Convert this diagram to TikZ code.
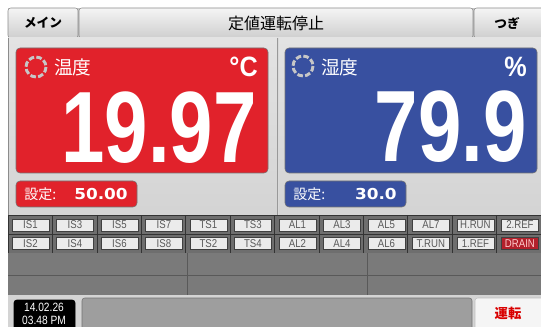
\documentclass[tikz,border=0pt]{standalone}
\usepackage{fontspec}
\setmainfont{Liberation Sans}
\newfontfamily\jpfont{Noto Sans CJK JP}
\newfontfamily\lcdfont{DejaVu Sans}
\usetikzlibrary{positioning}
\definecolor{panelred}{HTML}{E1222B}
\definecolor{panelblue}{HTML}{3850A0}
\definecolor{drainred}{HTML}{B3202B}
\definecolor{metal}{HTML}{D9D9D9}
\definecolor{strip}{HTML}{6E6E6E}
\definecolor{gridgray}{HTML}{7A7A7A}

\begin{document}
\begin{tikzpicture}[x=0.75pt,y=-0.75pt,
    topkey/.style={draw=black!45, rounded corners=2pt, top color=black!4, bottom color=black!19},
    panel/.style={draw=black!55, rounded corners=3pt},
    ring/.style={draw=white!78!black, line width=2.2pt, dash pattern=on 4.2pt off 1.7pt},
    namelabel/.style={anchor=west, text=white, inner sep=0pt, font=\jpfont\fontsize{14}{14}\selectfont},
    unitlabel/.style={anchor=base east, text=white, inner sep=0pt, xscale=0.9, font=\fontsize{21}{21}\selectfont\bfseries},
    bignum/.style={anchor=base east, text=white, inner sep=0pt, xscale=0.77, font=\fontsize{76}{76}\selectfont\bfseries},
    setlabel/.style={anchor=west, text=white, inner sep=0pt, font=\jpfont\fontsize{10.5}{10.5}\selectfont},
    setval/.style={anchor=east, text=white, inner sep=0pt, xscale=1.12, font=\lcdfont\fontsize{11.3}{11.3}\selectfont\bfseries},
    cell/.style={draw=black!80, fill=strip},
    key/.style={draw=black!75, fill=black!8, minimum width=27.75pt, minimum height=9pt, inner sep=0pt,
      text=black!65, font=\fontsize{8.5}{8.5}\selectfont},
  ]
  \useasboundingbox (0,0) rectangle (541,327);
  \fill[white] (0,0) rectangle (541,327);

  % top bar
  \fill[black!22] (8,8) rectangle (541,38);
  \draw[topkey] (8,8) rectangle (78,38);
  \draw[topkey] (79,8) rectangle (473,38);
  \draw[topkey] (474,8) rectangle (546,38);
  \node[font=\jpfont\bfseries\fontsize{9.5}{9.5}\selectfont] (menu) at (43,23) {メイン};
  \node[font=\jpfont\fontsize{12}{12}\selectfont] (title) at (276,23) {定値運転停止};
  \node[font=\jpfont\bfseries\fontsize{9.5}{9.5}\selectfont] (next) at (507,23) {つぎ};

  % metal background
  \fill[top color=black!11, bottom color=black!17] (8,38) rectangle (541,215);
  \draw[black!45] (8,38) -- (8,327);
  \draw[black!40] (277,38) -- (277,215);
  \draw[white!85!black] (278,38) -- (278,215);

  \begin{scope}[xshift=0pt]
    \filldraw[panel,fill=panelred] (16,48) rectangle (268,173);
    \draw[ring] (36,67) circle (10);
    \node[namelabel] (tname) at (54,67) {温度};
    \node[unitlabel] (tunit) at (258,77) {°C};
    \node[bignum] (tpv) at (257,163) {19.97};
    \filldraw[panel,fill=panelred] (16,181) rectangle (137,207);
    \node[setlabel] (tsetl) at (24,194) {設定:};
    \node[setval] (tsv) at (128,194) {50.00};
  \end{scope}
  \begin{scope}[xshift=201.75pt]
    \filldraw[panel,fill=panelblue] (16,48) rectangle (268,173);
    \draw[ring] (34,66) circle (10);
    \node[namelabel] (hname) at (52,67) {湿度};
    \node[unitlabel] (hunit) at (258,77) {\%};
    \node[bignum] (hpv) at (258,162) {79.9};
    \filldraw[panel,fill=panelblue] (16,181) rectangle (137,207);
    \node[setlabel] (hsetl) at (24,194) {設定:};
    \node[setval] (hsv) at (128,194) {30.0};
  \end{scope}

  % key strip
  \fill[strip] (8,215) rectangle (541,253);
  \foreach \c in {0,...,11}
  {
    \draw[cell] ({8+44.4*\c},215) rectangle ++(44.4,19);
    \draw[cell] ({8+44.4*\c},234) rectangle ++(44.4,19);
  }
  \foreach \lab [count=\c from 0] in {IS1,IS3,IS5,IS7,TS1,TS3,AL1,AL3,AL5,AL7,H.RUN,2.REF}
  {
    \node[key] (ka\c) at ({30.4+44.5*\c},224.8) {\scalebox{0.85}[1]{\lab}};
  }
  \foreach \lab [count=\c from 0] in {IS2,IS4,IS6,IS8,TS2,TS4,AL2,AL4,AL6,T.RUN,1.REF}
  {
    \node[key] (kb\c) at ({30.4+44.5*\c},243.6) {\scalebox{0.85}[1]{\lab}};
  }
  \node[key,fill=drainred,text=white!80!red] (kb11) at (519.9,243.6) {\scalebox{0.85}[1]{DRAIN}};

  % lower grid
  \fill[gridgray] (8,253) rectangle (541,295);
  \draw[black!65] (8,275) -- (541,275);
  \draw[black!65] (187,253) -- (187,295);
  \draw[black!65] (367,253) -- (367,295);

  % bottom bar
  \fill[black!17] (8,295) rectangle (541,327);
  \filldraw[black, rounded corners=2pt] (14,300) rectangle (75,330);
  \node[text=white, inner sep=0pt, xscale=0.85, font=\fontsize{9}{9}\selectfont] (date) at (44,307.5) {14.02.26};
  \node[text=white, inner sep=0pt, xscale=0.85, font=\fontsize{9}{9}\selectfont] (time) at (44,320) {03.48 PM};
  \filldraw[draw=black!55, fill=black!38, rounded corners=2pt] (82,298) rectangle (472,330);
  \filldraw[draw=black!25, fill=black!4, rounded corners=2pt] (475,298) rectangle (546,330);
  \node[text=red!85!black, font=\jpfont\bfseries\fontsize{10}{10}\selectfont] (run) at (508,313) {運転};
\end{tikzpicture}
\end{document}
